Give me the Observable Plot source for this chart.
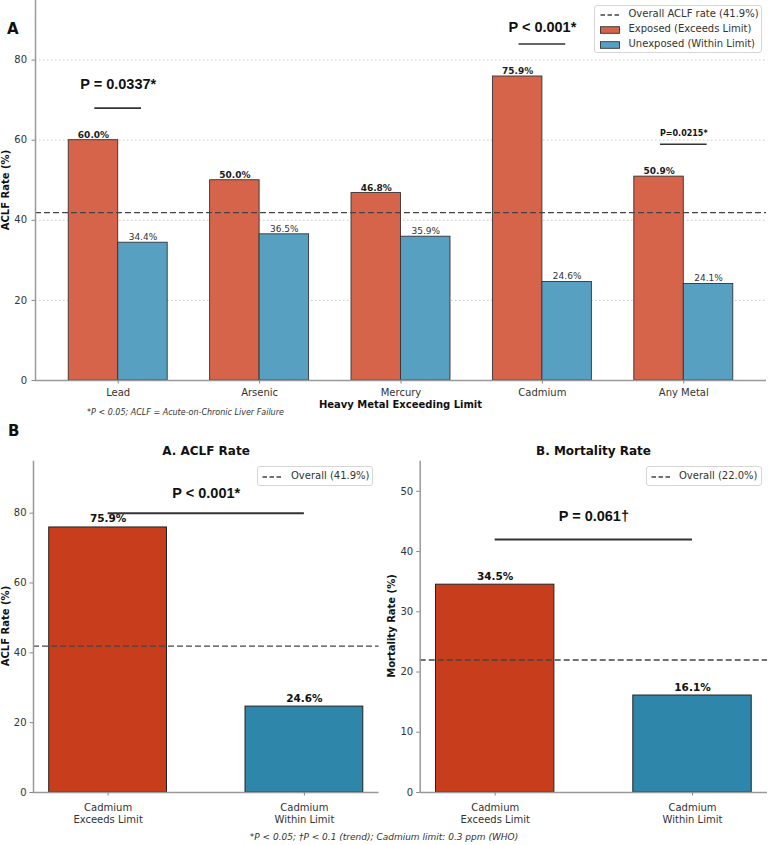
<!DOCTYPE html>
<html><head><meta charset="utf-8">
<script src="https://cdn.jsdelivr.net/npm/d3@7"></script>
<script src="https://cdn.jsdelivr.net/npm/@observablehq/plot@0.6"></script>
<style>
body{margin:0;background:#fff;}
#fig{position:relative;width:768px;height:845px;overflow:hidden;font-family:"DejaVu Sans",sans-serif;color:#222;background:#fff;}
#fig svg.plot{position:absolute;overflow:visible;}
.abs{position:absolute;white-space:nowrap;line-height:1;}
[aria-label="y-axis tick"],[aria-label="x-axis tick"]{stroke:#888;}
.legend{position:absolute;background:rgba(255,255,255,0.9);border:1px solid #d6d6d6;border-radius:3px;box-sizing:border-box;}
.legend .txt{position:absolute;font-size:10px;color:#333;white-space:nowrap;line-height:1;}
.legend svg{position:absolute;}
</style>
</head><body>
<div id="fig"></div>
<script>
// ---------- Data: Panel A ----------
const metals = ["Lead", "Arsenic", "Mercury", "Cadmium", "Any Metal"];
const exposedRate = [60.0, 50.0, 46.8, 75.9, 50.9];
const unexposedRate = [34.4, 36.5, 35.9, 24.6, 24.1];
const overallACLF = 41.9;
const seriesNames = ["Exposed (Exceeds Limit)", "Unexposed (Within Limit)"];
const pMetals = ["Lead", "Cadmium", "Any Metal"];
const pLabels = ["P = 0.0337*", "P < 0.001*", "P=0.0215*"];
const pLineY = [68, 84, 59];
const pTextY = [72.75, 86.9, 61];
const yTicksA = [0, 20, 40, 60, 80];

// ---------- Data: Panel B ----------
const cdGroups = ["Cadmium\nExceeds Limit", "Cadmium\nWithin Limit"];
const cdACLF = [75.9, 24.6];
const cdMortality = [34.5, 16.1];
const overallMortality = 22.0;
const bPLabels = ["P < 0.001*", "P = 0.061†"];
const bPLineY = [80, 42];
const bPTextY = [84.2, 45.1];
const yTicksACLF = [0, 20, 40, 60, 80];
const yTicksMort = [0, 10, 20, 30, 40, 50];

// ---------- Styles ----------
const colorsA = ["#d6644a", "#58a0c2"];
const colorsB = ["#c83e1c", "#2e86ab"];
const spine = "#999";

const fig = document.getElementById("fig");

function place(svg, left, top) {
  svg.classList.add("plot");
  svg.style.left = left + "px";
  svg.style.top = top + "px";
  fig.appendChild(svg);
}

// ---------- Panel A ----------
const yMaxA = Math.max(...exposedRate, ...unexposedRate) * 1.25;
const barsA = metals.flatMap((m, i) => [
  {i, metal: m, series: seriesNames[0], x1: i - 0.35, x2: i, value: exposedRate[i]},
  {i, metal: m, series: seriesNames[1], x1: i, x2: i + 0.35, value: unexposedRate[i]}
]);
const pData = pMetals.map((m, k) => ({i: metals.indexOf(m), label: pLabels[k], lineY: pLineY[k], textY: pTextY[k]}));
const xDomA = [-0.585, 4.585];

const plotA = Plot.plot({
  width: 768, height: 420,
  marginLeft: 35, marginRight: 2, marginTop: 0, marginBottom: 40,
  style: {fontFamily: "DejaVu Sans", fontSize: "10px", color: "#333", background: "transparent"},
  x: {domain: xDomA},
  y: {domain: [0, yMaxA]},
  color: {domain: seriesNames, range: colorsA},
  marks: [
    Plot.gridY(yTicksA.filter(t => t > 0), {stroke: "#c8c8c8", strokeOpacity: 1, strokeDasharray: "1.5,2.5"}),
    Plot.rect(barsA, {x1: "x1", x2: "x2", y1: 0, y2: "value", fill: "series", stroke: "#333", strokeWidth: 0.9}),
    Plot.ruleY([overallACLF], {stroke: "#444", strokeDasharray: "6,3", strokeWidth: 1.3}),
    Plot.ruleX([xDomA[0]], {stroke: spine, strokeWidth: 1.5}),
    Plot.ruleY([0], {stroke: spine, strokeWidth: 1.5}),
    Plot.axisY({ticks: yTicksA, tickSize: 3.5, tickPadding: 5, label: null}),
    Plot.axisX({ticks: metals.map((m, i) => i), tickFormat: i => metals[i], tickSize: 3.5, tickPadding: 5, label: null}),
    Plot.text(barsA.filter(d => d.series === seriesNames[0]), {
      x: d => (d.x1 + d.x2) / 2, y: "value", text: d => d.value.toFixed(1) + "%",
      lineAnchor: "bottom", dy: -2.5, fontWeight: "bold", fontSize: 9, fill: "#1a1a1a"}),
    Plot.text(barsA.filter(d => d.series === seriesNames[1]), {
      x: d => (d.x1 + d.x2) / 2, y: "value", text: d => d.value.toFixed(1) + "%",
      lineAnchor: "bottom", dy: -2.5, fontSize: 9, fill: "#333"}),
    Plot.ruleY(pData, {y: "lineY", x1: d => d.i - 0.165, x2: d => d.i + 0.165, stroke: "#333", strokeWidth: 1.6}),
    Plot.text(pData.filter(d => d.label !== "P=0.0215*"), {
      x: "i", y: "textY", text: "label", lineAnchor: "bottom",
      fontFamily: "Liberation Sans", fontWeight: "bold", fontSize: 14.5, fill: "#111"}),
    Plot.text(pData.filter(d => d.label === "P=0.0215*"), {
      x: "i", y: "textY", text: "label", lineAnchor: "bottom",
      fontFamily: "DejaVu Sans", fontWeight: "bold", fontSize: 8, fill: "#111"})
  ]
});
place(plotA, 0, 0);

// ---------- Panel B ----------
function panelB({values, overall, yMax, yTicks, pLabel, lineY, textY, mL, mR}) {
  const bars = cdGroups.map((g, i) => ({i, group: g, series: seriesNames[i], value: values[i]}));
  const xDom = [-0.38, 1.38];
  return Plot.plot({
    width: 384, height: 385,
    marginLeft: mL, marginRight: mR, marginTop: 20.7, marginBottom: 33,
    style: {fontFamily: "DejaVu Sans", fontSize: "10px", color: "#333", background: "transparent"},
    x: {domain: xDom},
    y: {domain: [0, yMax]},
    color: {domain: seriesNames, range: colorsB},
    marks: [
      Plot.rect(bars, {x1: d => d.i - 0.3, x2: d => d.i + 0.3, y1: 0, y2: "value", fill: "series", stroke: "#222", strokeWidth: 1}),
      Plot.ruleY([overall], {stroke: "#444", strokeDasharray: "6,3", strokeWidth: 1.3}),
      Plot.ruleX([xDom[0]], {stroke: spine, strokeWidth: 1.5}),
      Plot.ruleY([0], {stroke: spine, strokeWidth: 1.5}),
      Plot.axisY({ticks: yTicks, tickSize: 3.5, tickPadding: 3.5, label: null}),
      Plot.axisX({ticks: [0, 1], tickFormat: i => cdGroups[i], tickSize: 3.5, tickPadding: 7, label: null, lineHeight: 1.15}),
      Plot.text(bars, {x: "i", y: "value", text: d => d.value.toFixed(1) + "%", lineAnchor: "bottom", dy: -5,
        fontWeight: "bold", fontSize: 10.5, fill: "#111"}),
      Plot.ruleY([{y: lineY}], {y: "y", x1: 0, x2: 1, stroke: "#333", strokeWidth: 2}),
      Plot.text([{label: pLabel, y: textY}], {x: 0.5, y: "y", text: "label", lineAnchor: "bottom",
        fontFamily: "Liberation Sans", fontWeight: "bold", fontSize: 14.5, fill: "#111"})
    ]
  });
}
place(panelB({values: cdACLF, overall: overallACLF, yMax: Math.max(...cdACLF) * 1.25, yTicks: yTicksACLF,
  pLabel: bPLabels[0], lineY: bPLineY[0], textY: bPTextY[0], mL: 33, mR: 5.5}), 0, 440);
place(panelB({values: cdMortality, overall: overallMortality, yMax: 55, yTicks: yTicksMort,
  pLabel: bPLabels[1], lineY: bPLineY[1], textY: bPTextY[1], mL: 35.7, mR: 1}), 384, 440);

// ---------- Text labels ----------
function label(txt, x, baseline, size, o = {}) {
  const d = document.createElement("div");
  d.className = "abs";
  d.textContent = txt;
  d.style.left = x + "px";
  d.style.top = (baseline - 0.85 * size) + "px";
  d.style.fontSize = size + "px";
  d.style.fontWeight = o.weight || "normal";
  d.style.fontStyle = o.style || "normal";
  d.style.fontFamily = o.family || "DejaVu Sans";
  d.style.color = o.color || "#222";
  if (o.anchor === "middle") d.style.transform = "translateX(-50%)";
  fig.appendChild(d);
}
function vlabel(txt, cx, cy, size) {
  const d = document.createElement("div");
  d.className = "abs";
  d.textContent = txt;
  d.style.left = cx + "px";
  d.style.top = cy + "px";
  d.style.fontSize = size + "px";
  d.style.fontWeight = "bold";
  d.style.color = "#111";
  d.style.transform = "translate(-50%,-50%) rotate(-90deg)";
  fig.appendChild(d);
}

label("A", 7, 35, 15, {weight: "bold", color: "#111"});
label("B", 8, 437, 15, {weight: "bold", color: "#111"});
vlabel("ACLF Rate (%)", 6, 190, 10);
label("Heavy Metal Exceeding Limit", 400.5, 408, 10, {weight: "bold", anchor: "middle", color: "#111"});
label("*P < 0.05; ACLF = Acute-on-Chronic Liver Failure", 185.5, 416, 8, {style: "italic", anchor: "middle", color: "#333"});

label("A. ACLF Rate", 206, 455, 12, {weight: "bold", anchor: "middle", color: "#111"});
label("B. Mortality Rate", 593.5, 455, 12, {weight: "bold", anchor: "middle", color: "#111"});
vlabel("ACLF Rate (%)", 6, 626, 10);
vlabel("Mortality Rate (%)", 392, 626, 10);
label("*P < 0.05; †P < 0.1 (trend); Cadmium limit: 0.3 ppm (WHO)", 384, 841, 9, {style: "italic", anchor: "middle", color: "#333"});

// ---------- Legends ----------
function legend(x, y, w, h, items, rowStart, rowGap, swX, txtX) {
  const box = document.createElement("div");
  box.className = "legend";
  Object.assign(box.style, {left: x + "px", top: y + "px", width: w + "px", height: h + "px"});
  items.forEach((it, k) => {
    const cy = rowStart + k * rowGap;
    const sw = document.createElementNS("http://www.w3.org/2000/svg", "svg");
    sw.setAttribute("width", 20); sw.setAttribute("height", 10);
    sw.style.left = swX + "px"; sw.style.top = (cy - 5) + "px";
    if (it.type === "line") {
      sw.innerHTML = `<line x1="0.5" y1="5" x2="19.5" y2="5" stroke="#444" stroke-width="1.3" stroke-dasharray="4.5,2.5"/>`;
    } else {
      sw.innerHTML = `<rect x="0.5" y="1.7" width="19" height="6.6" fill="${it.color}" stroke="#333" stroke-width="0.9"/>`;
    }
    box.appendChild(sw);
    const t = document.createElement("div");
    t.className = "txt";
    t.textContent = it.text;
    t.style.left = txtX + "px";
    t.style.top = (cy - 5.5) + "px";
    box.appendChild(t);
  });
  fig.appendChild(box);
}
legend(594, 5, 168, 48, [
  {type: "line", text: `Overall ACLF rate (${overallACLF.toFixed(1)}%)`},
  {type: "rect", color: colorsA[0], text: seriesNames[0]},
  {type: "rect", color: colorsA[1], text: seriesNames[1]}
], 8.5, 15, 4.5, 33.5);
legend(257, 466, 116, 20, [{type: "line", text: `Overall (${overallACLF.toFixed(1)}%)`}], 9.5, 15, 4, 33);
legend(646, 466, 116, 20, [{type: "line", text: `Overall (${overallMortality.toFixed(1)}%)`}], 9.5, 15, 4, 32);
</script>
</body></html>
